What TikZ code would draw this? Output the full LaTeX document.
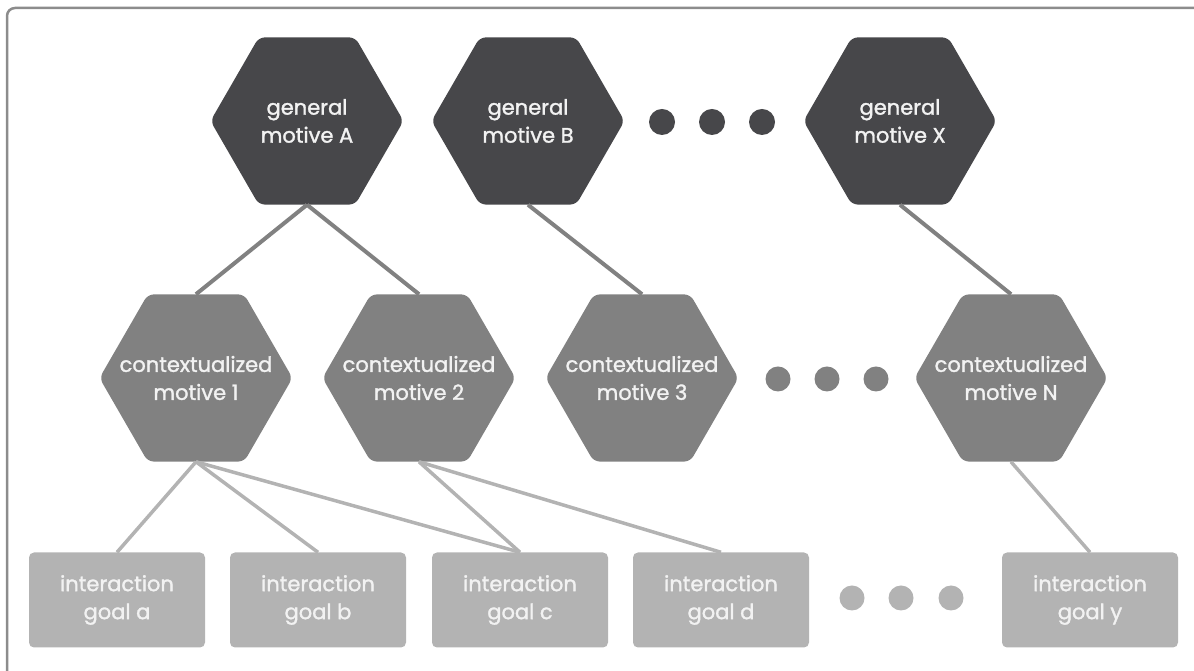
\documentclass[tikz,border=0pt]{standalone}
\usepackage{fontspec}
\setmainfont{Poppins}[FakeBold=1.5]
\usepackage{tikz}
\usetikzlibrary{shapes.geometric}
\definecolor{gendark}{HTML}{47474A}
\definecolor{ctxgray}{HTML}{818181}
\definecolor{goalgray}{HTML}{B3B3B3}
\definecolor{framegray}{HTML}{8C8C8C}
\tikzset{
  x=1pt, y=1pt,
}
\tikzstyle{every node}=[font=\fontsize{21}{28}\selectfont, text=white!95!black, align=center]
\tikzstyle{hexa}=[regular polygon, regular polygon sides=6, minimum size=193pt,
  inner sep=0pt, rounded corners=6pt]
\tikzstyle{genmotive}=[hexa, fill=gendark]
\tikzstyle{ctxmotive}=[hexa, fill=ctxgray]
\tikzstyle{goal}=[rectangle, rounded corners=5pt, fill=goalgray,
  minimum width=176pt, minimum height=95pt, inner sep=0pt]
\tikzstyle{upper}=[line width=4pt, color=ctxgray]
\tikzstyle{lower}=[line width=3.5pt, color=goalgray]

\begin{document}
\begin{tikzpicture}
        \useasboundingbox (0,0) rectangle (1194,671);
        \draw[framegray, line width=2.5pt, rounded corners=8pt]
          (1200,663) -- (7,663) -- (7,-5);
        % general motives
        \node[genmotive, label=center:{general\\motive A}] (gA) at (307,550) {};
        \node[genmotive, label=center:{general\\motive B}] (gB) at (528,550) {};
        \node[genmotive, label=center:{general\\motive X}] (gX) at (900,550) {};
        % contextualized motives
        \node[ctxmotive, label=center:{contextualized\\motive 1}] (c1) at (196,293) {};
        \node[ctxmotive, label=center:{contextualized\\motive 2}] (c2) at (419,293) {};
        \node[ctxmotive, label=center:{contextualized\\motive 3}] (c3) at (642,293) {};
        \node[ctxmotive, label=center:{contextualized\\motive N}] (cN) at (1011,293) {};
        % interaction goals
        \node[goal] (ga) at (117,71) {interaction\\goal a};
        \node[goal] (gb) at (318,71) {interaction\\goal b};
        \node[goal] (gc) at (520,71) {interaction\\goal c};
        \node[goal] (gd) at (721,71) {interaction\\goal d};
        \node[goal] (gy) at (1090,71) {interaction\\goal y};
        % ellipses
        \foreach \x in {662,712,762} \fill[gendark] (\x,549) circle (13);
        \foreach \x in {778,827,876} \fill[ctxgray] (\x,292) circle (12.5);
        \foreach \x in {852,901,951} \fill[goalgray] (\x,73) circle (12.5);
        % links
        \draw[upper] (gA.south) -- (c1.north);
        \draw[upper] (gA.south) -- (c2.north);
        \draw[upper] (gB.south) -- (c3.north);
        \draw[upper] (gX.south) -- (cN.north);
        \draw[lower] (c1.south) -- (ga.north);
        \draw[lower] (c1.south) -- (gb.north);
        \draw[lower] (c1.south) -- (gc.north);
        \draw[lower] (c2.south) -- (gc.north);
        \draw[lower] (c2.south) -- (gd.north);
        \draw[lower] (cN.south) -- (gy.north);
      \end{tikzpicture}
\end{document}
